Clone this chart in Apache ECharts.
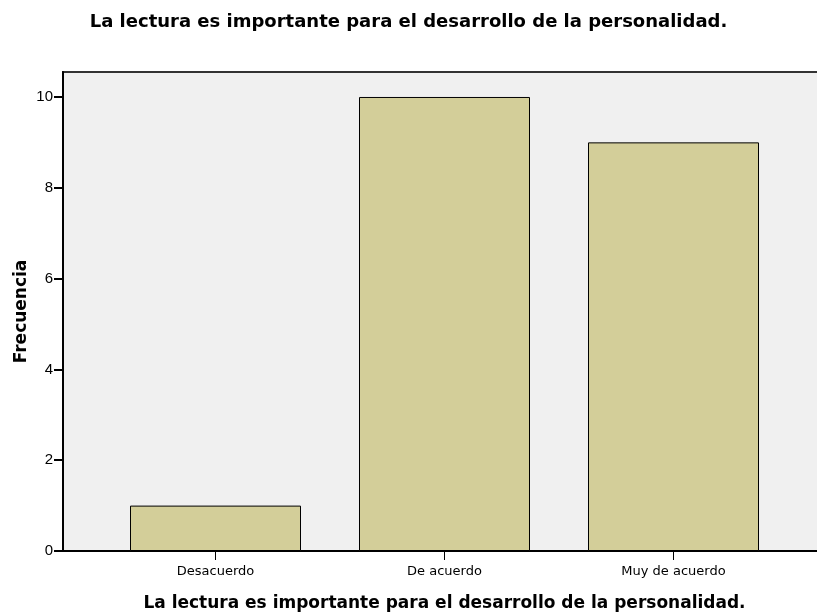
<!DOCTYPE html>
<html><head><meta charset="utf-8">
<script src="https://cdn.jsdelivr.net/npm/echarts@6/dist/echarts.min.js"></script>
<style>html,body{margin:0;padding:0;background:#fff}#c{width:817px;height:615px}</style>
</head><body><div id="c"></div>
<script>
const categories = ['Desacuerdo', 'De acuerdo', 'Muy de acuerdo'];
const frecuencia = [1, 10, 9];
const yTicks = [0, 2, 4, 6, 8, 10];
const titleText = 'La lectura es importante para el desarrollo de la personalidad.';

const chart = echarts.init(document.getElementById('c'));
const bold = '"DejaVu Sans", sans-serif';
const font = '"Liberation Sans", Arial, sans-serif';
const yMax = 10.55;
chart.setOption({
  animation: false,
  title: { text: titleText, left: 'center', top: 8,
    textStyle: { fontFamily: bold, fontSize: 18, fontWeight: 'bold', color: '#000' } },
  grid: [
    { left: 63, top: 72, right: -10, bottom: 64, show: true, backgroundColor: '#f0f0f0', borderColor: '#333', borderWidth: 2, containLabel: false, outerBoundsMode: 'none' },
    { left: 101, width: 687, top: 72, bottom: 64, containLabel: false, outerBoundsMode: 'none' }
  ],
  xAxis: [
    { type: 'category', gridIndex: 0, data: [''], axisLine: { show: true, lineStyle: { color: '#000', width: 2 } },
      axisTick: { show: false }, axisLabel: { show: false } },
    { type: 'category', gridIndex: 1, data: categories, boundaryGap: true,
      axisLine: { show: false },
      axisTick: { show: true, alignWithLabel: true, length: 9, lineStyle: { color: '#000' } },
      axisLabel: { fontFamily: '"DejaVu Sans", sans-serif', fontSize: 13, color: '#000', margin: 14 },
      name: titleText, nameLocation: 'middle', nameGap: 44, nameMoveOverlap: false,
      nameTextStyle: { fontFamily: bold, fontSize: 17, fontWeight: 'bold', color: '#000' } }
  ],
  yAxis: [
    { type: 'value', gridIndex: 0, min: 0, max: yMax,
      axisLine: { show: true, lineStyle: { color: '#000', width: 2 } },
      axisTick: { show: true, length: 9, customValues: yTicks, lineStyle: { color: '#000', width: 2 } },
      axisLabel: { fontFamily: font, fontSize: 15, color: '#000', margin: 10, customValues: yTicks },
      splitLine: { show: false },
      name: 'Frecuencia', nameLocation: 'middle', nameGap: 33, nameMoveOverlap: false,
      nameTextStyle: { fontFamily: bold, fontSize: 17, fontWeight: 'bold', color: '#000' } },
    { type: 'value', gridIndex: 1, min: 0, max: yMax, show: false, splitLine: { show: false } }
  ],
  series: [{
    type: 'bar', xAxisIndex: 1, yAxisIndex: 1, data: frecuencia, barWidth: 171,
    itemStyle: { color: '#d3ce99', borderColor: '#000', borderWidth: 1 }
  }]
});
</script></body></html>
